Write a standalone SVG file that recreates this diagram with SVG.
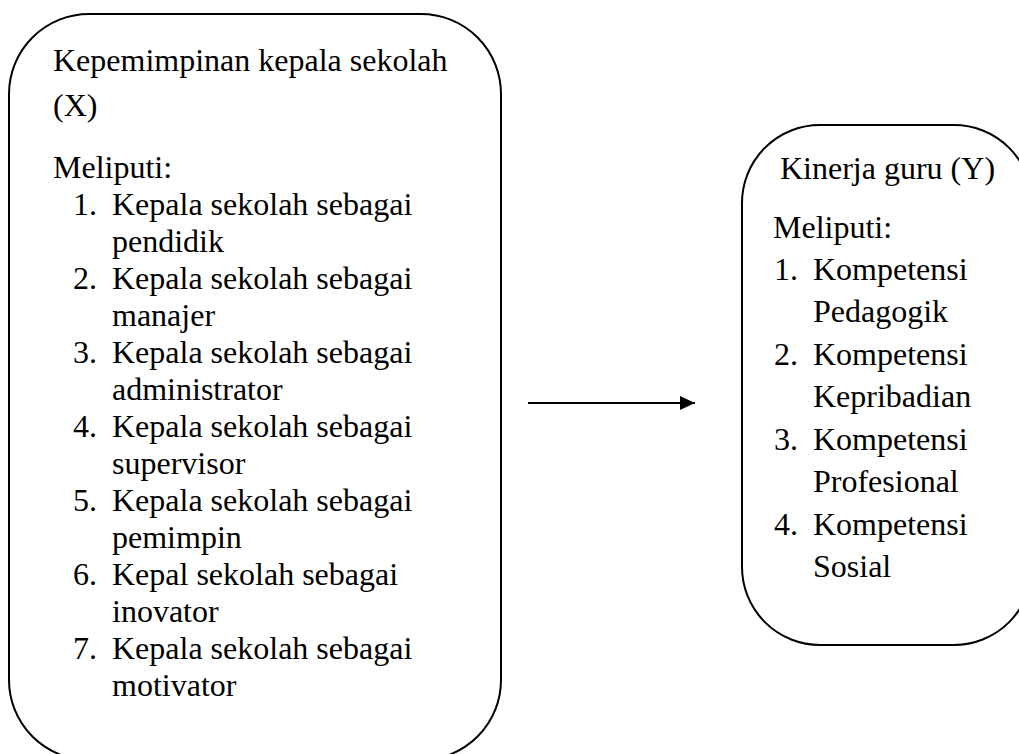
<svg xmlns="http://www.w3.org/2000/svg" width="1019" height="754" viewBox="0 0 1019 754">
<style>
.box{fill:#fff;stroke:#000;stroke-width:2}
.t{font-family:"Liberation Serif","Times New Roman",serif;font-size:32px;fill:#000}
.c{stroke:#000;stroke-width:2;fill:none}
</style>
<defs>
<marker id="ah" markerWidth="15" markerHeight="14" refX="15" refY="7" orient="auto" markerUnits="userSpaceOnUse">
<path d="M0,0 L15,7 L0,14 Z" fill="#000"/>
</marker>
</defs>
<rect width="1019" height="754" fill="#fff"/>
<g id="node-x">
<rect class="box" x="9" y="14" width="492" height="746" rx="80" ry="80"/>
<text class="t" x="53" y="71">Kepemimpinan kepala sekolah</text>
<text class="t" x="53" y="116">(X)</text>
<text class="t" x="53" y="178">Meliputi:</text>
<text class="t" x="73" y="215">1.</text><text class="t" x="112" y="215">Kepala sekolah sebagai</text>
<text class="t" x="112" y="252">pendidik</text>
<text class="t" x="73" y="289">2.</text><text class="t" x="112" y="289">Kepala sekolah sebagai</text>
<text class="t" x="112" y="326">manajer</text>
<text class="t" x="73" y="363">3.</text><text class="t" x="112" y="363">Kepala sekolah sebagai</text>
<text class="t" x="112" y="400">administrator</text>
<text class="t" x="73" y="437">4.</text><text class="t" x="112" y="437">Kepala sekolah sebagai</text>
<text class="t" x="112" y="474">supervisor</text>
<text class="t" x="73" y="511">5.</text><text class="t" x="112" y="511">Kepala sekolah sebagai</text>
<text class="t" x="112" y="548">pemimpin</text>
<text class="t" x="73" y="585">6.</text><text class="t" x="112" y="585">Kepal sekolah sebagai</text>
<text class="t" x="112" y="622">inovator</text>
<text class="t" x="73" y="659">7.</text><text class="t" x="112" y="659">Kepala sekolah sebagai</text>
<text class="t" x="112" y="696">motivator</text>
</g>
<g id="node-y">
<rect class="box" x="742" y="125" width="290" height="520" rx="78" ry="78"/>
<text class="t" x="780" y="179">Kinerja guru (Y)</text>
<text class="t" x="773" y="238">Meliputi:</text>
<text class="t" x="774" y="280">1.</text><text class="t" x="813" y="280">Kompetensi</text>
<text class="t" x="813" y="322">Pedagogik</text>
<text class="t" x="774" y="365">2.</text><text class="t" x="813" y="365">Kompetensi</text>
<text class="t" x="813" y="407">Kepribadian</text>
<text class="t" x="774" y="450">3.</text><text class="t" x="813" y="450">Kompetensi</text>
<text class="t" x="813" y="492">Profesional</text>
<text class="t" x="774" y="535">4.</text><text class="t" x="813" y="535">Kompetensi</text>
<text class="t" x="813" y="577">Sosial</text>
</g>
<g id="connectors">
<line class="c" x1="528" y1="403" x2="695" y2="403" marker-end="url(#ah)"/>
</g>
</svg>
